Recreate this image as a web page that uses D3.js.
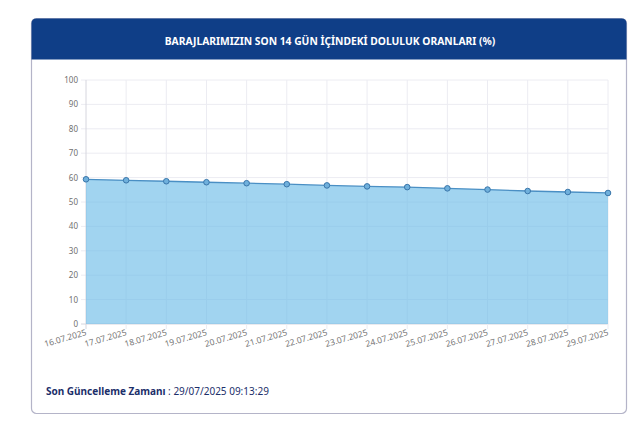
<!DOCTYPE html>
<html>
<head>
<meta charset="utf-8">
<script src="https://cdn.jsdelivr.net/npm/d3@7"></script>
<style>
  html, body { margin: 0; padding: 0; background: #fff; }
  svg { display: block; font-family: "Noto Sans", "DejaVu Sans", sans-serif; }
</style>
</head>
<body>
<svg width="640" height="423"></svg>
<script>
// tarihler ve doluluk oranları (%)
const dates = ["16.07.2025","17.07.2025","18.07.2025","19.07.2025","20.07.2025","21.07.2025","22.07.2025",
               "23.07.2025","24.07.2025","25.07.2025","26.07.2025","27.07.2025","28.07.2025","29.07.2025"];
const rates = [59.3, 58.9, 58.5, 58.1, 57.7, 57.3, 56.8, 56.4, 56.1, 55.6, 55.1, 54.5, 54.1, 53.7];
const yTicks = [0, 10, 20, 30, 40, 50, 60, 70, 80, 90, 100];

const title = "BARAJLARIMIZIN SON 14 GÜN İÇİNDEKİ DOLULUK ORANLARI (%)";
const updLabel = "Son Güncelleme Zamanı";
const updValue = " : 29/07/2025 09:13:29";

const svg = d3.select("svg");

// --- kart ---
const card = { x: 31.5, y: 18.5, w: 595, h: 395, r: 5 };
const headerH = 41;

svg.append("rect")
  .attr("x", card.x).attr("y", card.y)
  .attr("width", card.w).attr("height", card.h)
  .attr("rx", card.r)
  .attr("fill", "#fff")
  .attr("stroke", "#b4b4c8")
  .attr("stroke-width", 1.2);

svg.append("path")
  .attr("d", `M${card.x},${card.y + headerH} V${card.y + card.r} Q${card.x},${card.y} ${card.x + card.r},${card.y}
              H${card.x + card.w - card.r} Q${card.x + card.w},${card.y} ${card.x + card.w},${card.y + card.r}
              V${card.y + headerH} Z`)
  .attr("fill", "#0f3e87");

svg.append("text")
  .attr("x", 330).attr("y", 44.5)
  .attr("text-anchor", "middle")
  .attr("fill", "#fff")
  .style("font-size", "10.3px")
  .style("font-weight", 700)
  .text(title);

// --- grafik ---
const margin = { left: 86, right: 608, top: 80, bottom: 324 };

const x = d3.scalePoint().domain(dates).range([margin.left, margin.right]);
const y = d3.scaleLinear().domain([0, 100]).range([margin.bottom, margin.top]);

const g = svg.append("g");

// ızgara
g.selectAll("line.hgrid")
  .data(yTicks)
  .enter().append("line")
  .attr("class", "hgrid")
  .attr("x1", margin.left - 5).attr("x2", margin.right)
  .attr("y1", d => y(d)).attr("y2", d => y(d))
  .attr("stroke", d => d === 0 ? "#d6d6de" : "#ececf2")
  .attr("stroke-width", 1);

g.selectAll("line.vgrid")
  .data(dates)
  .enter().append("line")
  .attr("class", "vgrid")
  .attr("x1", d => x(d)).attr("x2", d => x(d))
  .attr("y1", margin.top).attr("y2", margin.bottom + 5)
  .attr("stroke", (d, i) => i === 0 ? "#d6d6de" : "#ececf2")
  .attr("stroke-width", 1);

const series = dates.map((d, i) => ({ d, v: rates[i] }));

const area = d3.area()
  .x(p => x(p.d))
  .y0(y(0))
  .y1(p => y(p.v));

const line = d3.line()
  .x(p => x(p.d))
  .y(p => y(p.v));

g.append("path")
  .datum(series)
  .attr("d", area)
  .attr("fill", "rgba(104, 186, 230, 0.62)");

g.append("path")
  .datum(series)
  .attr("d", line)
  .attr("fill", "none")
  .attr("stroke", "#4a8fc4")
  .attr("stroke-width", 1.3);

g.selectAll("circle.pt")
  .data(series)
  .enter().append("circle")
  .attr("class", "pt")
  .attr("cx", p => x(p.d))
  .attr("cy", p => y(p.v))
  .attr("r", 2.8)
  .attr("fill", "#6fb0dc")
  .attr("stroke", "#3a76aa")
  .attr("stroke-width", 1);

// eksen etiketleri
g.selectAll("text.ytick")
  .data(yTicks)
  .enter().append("text")
  .attr("class", "ytick")
  .attr("x", 78)
  .attr("y", d => y(d) + 3)
  .attr("text-anchor", "end")
  .attr("fill", "#707070")
  .style("font-size", "8px")
  .text(d => d);

g.selectAll("text.xtick")
  .data(dates)
  .enter().append("text")
  .attr("class", "xtick")
  .attr("transform", d => `translate(${x(d) + 1},${margin.bottom + 11}) rotate(-16)`)
  .attr("text-anchor", "end")
  .attr("fill", "#777")
  .style("font-size", "8.5px")
  .text(d => d);

// güncelleme zamanı
const foot = svg.append("text")
  .attr("x", 46).attr("y", 395)
  .style("font-size", "10px")
  .attr("fill", "#1c2f6a");
foot.append("tspan").style("font-weight", 700).text(updLabel);
foot.append("tspan").style("font-weight", 400).text(updValue);
</script>
</body>
</html>
